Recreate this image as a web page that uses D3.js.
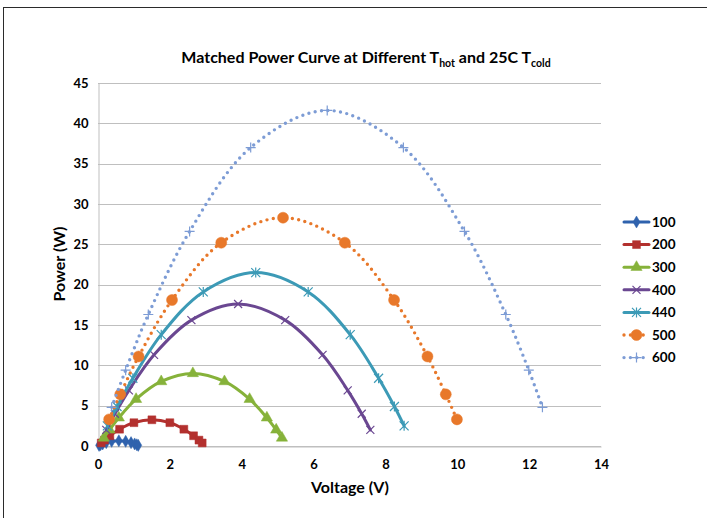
<!DOCTYPE html>
<html>
<head>
<meta charset="utf-8">
<script src="https://cdn.jsdelivr.net/npm/d3@7"></script>
<style>
  body { margin: 0; background: #fff; }
  text { font-family: Lato, "Open Sans", sans-serif; font-weight: bold; fill: #000; }
</style>
</head>
<body>
<script>
// series (voltage V, power W)
var seriesNames = ["100", "200", "300", "400", "440", "500", "600"];

var volt100 = [0.03, 0.07, 0.13, 0.23, 0.38, 0.58, 0.77, 0.92, 1.02, 1.08, 1.12];
var pow100  = [0.08, 0.15, 0.25, 0.42, 0.58, 0.65, 0.58, 0.42, 0.25, 0.15, 0.08];

var volt200 = [0.09, 0.18, 0.33, 0.60, 1.00, 1.50, 2.00, 2.39, 2.66, 2.81, 2.90];
var pow200  = [0.38, 0.73, 1.27, 2.08, 2.89, 3.25, 2.89, 2.08, 1.27, 0.73, 0.38];

var volt300 = [0.16, 0.32, 0.58, 1.06, 1.76, 2.64, 3.52, 4.22, 4.70, 4.96, 5.12];
var pow300  = [1.0, 2.0, 3.5, 5.8, 8.0, 9.0, 8.0, 5.8, 3.5, 2.0, 1.0];

var volt400 = [0.23, 0.47, 0.86, 1.56, 2.60, 3.90, 5.21, 6.25, 6.95, 7.34, 7.58];
var pow400  = [2.0, 4.0, 6.9, 11.3, 15.6, 17.6, 15.6, 11.3, 6.9, 4.0, 2.0];

var volt440 = [0.26, 0.53, 0.97, 1.76, 2.93, 4.39, 5.85, 7.02, 7.81, 8.25, 8.52];
var pow440  = [2.5, 4.9, 8.4, 13.8, 19.1, 21.5, 19.1, 13.8, 8.4, 4.9, 2.5];

var volt500 = [0.31, 0.62, 1.13, 2.06, 3.43, 5.15, 6.87, 8.24, 9.17, 9.68, 9.99];
var pow500  = [3.3, 6.4, 11.1, 18.1, 25.2, 28.3, 25.2, 18.1, 11.1, 6.4, 3.3];

var volt600 = [0.38, 0.77, 1.40, 2.55, 4.25, 6.38, 8.50, 10.20, 11.35, 11.99, 12.37];
var pow600  = [4.8, 9.4, 16.3, 26.6, 37.0, 41.6, 37.0, 26.6, 16.3, 9.4, 4.8];

var xTicks = [0, 2, 4, 6, 8, 10, 12, 14];
var yTicks = [0, 5, 10, 15, 20, 25, 30, 35, 40, 45];

var colors = ["#2f62ad", "#b3302e", "#86b23a", "#6a4791", "#3c9ab6", "#e8782a", "#7d9cd5"];
var dotted = [false, false, false, false, false, true, true];
var markers = ["diamond", "square", "triangle", "x", "asterisk", "circle", "plus"];

var volts = [volt100, volt200, volt300, volt400, volt440, volt500, volt600];
var pows = [pow100, pow200, pow300, pow400, pow440, pow500, pow600];

var series = seriesNames.map(function(name, i) {
  return {
    name: name,
    color: colors[i],
    dotted: dotted[i],
    marker: markers[i],
    values: volts[i].map(function(v, j) { return { v: v, p: pows[i][j] }; })
  };
});

var svgWidth = 707;
var svgHeight = 518;

var svg = d3.select("body")
  .append("svg")
  .attr("width", svgWidth)
  .attr("height", svgHeight);

// outer frame
svg.append("rect")
  .attr("x", 3.5)
  .attr("y", 7.5)
  .attr("width", 720)
  .attr("height", 530)
  .attr("fill", "#fff")
  .attr("stroke", "#2b2b2b")
  .attr("stroke-width", 1);

var x = d3.scaleLinear().domain([0, 14]).range([98, 601]);
var y = d3.scaleLinear().domain([0, 45]).range([446, 83]);

// gridlines
svg.append("g")
  .selectAll("line")
  .data(yTicks)
  .enter()
  .append("line")
  .attr("x1", x(0))
  .attr("x2", x(14))
  .attr("y1", function(d) { return Math.round(y(d)) + 0.5; })
  .attr("y2", function(d) { return Math.round(y(d)) + 0.5; })
  .attr("stroke", "#bfbfbf")
  .attr("stroke-width", 1);

// axes
var bottomAxis = d3.axisBottom(x).tickValues(xTicks).tickSize(0).tickPadding(13);
var leftAxis = d3.axisLeft(y).tickValues(yTicks).tickSize(0).tickPadding(10);

var gx = svg.append("g")
  .attr("transform", "translate(0," + (Math.round(y(0)) + 0.5) + ")")
  .call(bottomAxis);
gx.select(".domain").attr("stroke", "#bfbfbf");

var gy = svg.append("g")
  .attr("transform", "translate(" + (Math.round(x(0)) + 0.5) + ",0)")
  .call(leftAxis);
gy.select(".domain").attr("stroke", "#bfbfbf");

svg.selectAll(".tick text")
  .style("font-family", "Lato, 'Open Sans', sans-serif")
  .style("font-weight", "bold")
  .style("font-size", "13px")
  .attr("fill", "#000");

// marker shapes
function markerPath(kind) {
  if (kind === "diamond") return d3.symbol().type(d3.symbolDiamond).size(42)();
  if (kind === "square") return d3.symbol().type(d3.symbolSquare).size(62)();
  if (kind === "triangle") return d3.symbol().type(d3.symbolTriangle).size(55)();
  if (kind === "circle") return d3.symbol().type(d3.symbolCircle).size(95)();
  if (kind === "x") return "M-4,-4L4,4M-4,4L4,-4";
  if (kind === "asterisk") return "M-4.5,-4.5L4.5,4.5M-4.5,4.5L4.5,-4.5M0,-5L0,5";
  return "M-5,0L5,0M0,-5L0,5";
}

function isStroked(kind) {
  return kind === "x" || kind === "asterisk" || kind === "plus";
}

var line = d3.line()
  .x(function(d) { return x(d.v); })
  .y(function(d) { return y(d.p); })
  .curve(d3.curveCatmullRom.alpha(0.5));

var plot = svg.append("g");

series.forEach(function(s) {
  var g = plot.append("g");
  g.append("path")
    .datum(s.values)
    .attr("d", line)
    .attr("fill", "none")
    .attr("stroke", s.color)
    .attr("stroke-width", s.dotted ? 3.4 : 3)
    .attr("stroke-linecap", "round")
    .attr("stroke-dasharray", s.dotted ? "0,6.4" : null);

  g.selectAll("path.m")
    .data(s.values)
    .enter()
    .append("path")
    .attr("class", "m")
    .attr("transform", function(d) { return "translate(" + x(d.v) + "," + y(d.p) + ")"; })
    .attr("d", markerPath(s.marker))
    .attr("fill", isStroked(s.marker) ? "none" : s.color)
    .attr("stroke", s.color)
    .attr("stroke-width", isStroked(s.marker) ? 1.2 : 0.5);
});

// legend
var legend = svg.append("g");
series.forEach(function(s, i) {
  var ly = 222 + i * 22.6;
  var lg = legend.append("g").attr("transform", "translate(0," + ly + ")");
  lg.append("line")
    .attr("x1", 624)
    .attr("x2", 649)
    .attr("y1", 0)
    .attr("y2", 0)
    .attr("stroke", s.color)
    .attr("stroke-width", s.dotted ? 3.4 : 3)
    .attr("stroke-linecap", "round")
    .attr("stroke-dasharray", s.dotted ? "0,6.4" : null);
  lg.append("path")
    .attr("transform", "translate(636.5,0)")
    .attr("d", markerPath(s.marker))
    .attr("fill", isStroked(s.marker) ? "none" : s.color)
    .attr("stroke", s.color)
    .attr("stroke-width", isStroked(s.marker) ? 1.2 : 0.5);
  lg.append("text")
    .attr("x", 652)
    .attr("y", 0)
    .attr("dy", "0.35em")
    .style("font-size", "13.5px")
    .text(s.name);
});

// title
var title = svg.append("text")
  .attr("x", 366)
  .attr("y", 63)
  .attr("text-anchor", "middle")
  .style("font-size", "16px");
title.append("tspan").text("Matched Power Curve at Different T");
title.append("tspan").attr("dy", 4).style("font-size", "10.5px").text("hot");
title.append("tspan").attr("dy", -4).text(" and 25C T");
title.append("tspan").attr("dy", 4).style("font-size", "10.5px").text("cold");

// Y axis label
svg.append("text")
  .attr("transform", "translate(65," + 264 + ") rotate(-90)")
  .attr("text-anchor", "middle")
  .style("font-size", "16px")
  .text("Power (W)");

// X axis label
svg.append("text")
  .attr("x", 350)
  .attr("y", 493)
  .attr("text-anchor", "middle")
  .style("font-size", "16px")
  .text("Voltage (V)");
</script>
</body>
</html>
